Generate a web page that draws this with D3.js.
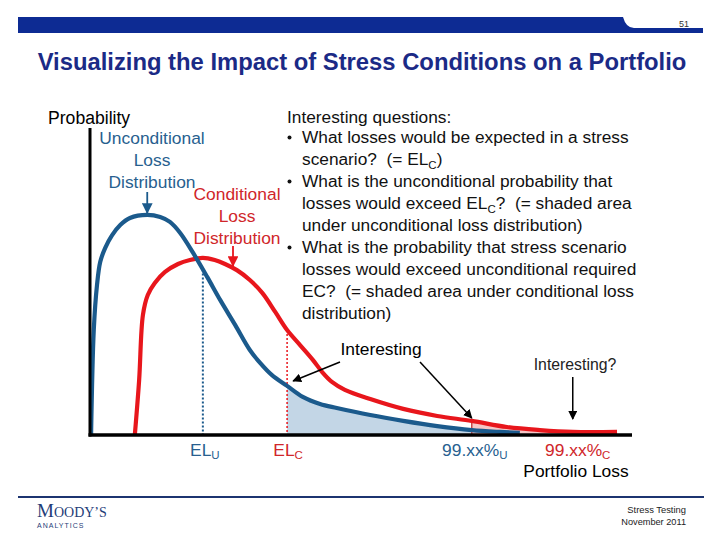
<!DOCTYPE html>
<html><head><meta charset="utf-8">
<script src="https://cdn.jsdelivr.net/npm/d3@7"></script>
<style>body{margin:0;background:#fff}svg{display:block}text{white-space:pre}</style>
</head><body><svg id="c" width="720" height="540"></svg>
<script>
// Unconditional loss distribution: [loss, probability]
const uncondLoss = [0.2,0.7,1.3,1.9,2.8,4.1,5.6,7.4,10.6,13.0,14.8,16.7,19.1,21.7,24.1,26.9,29.6,31.5,33.7,36.5,39.4,42.6,45.7,51.9,58.0,64.3,70.7,75.9,79.6];
const uncondProb = [0,34.2,48.9,56.4,60.9,65.1,68.4,70.7,71.7,71.0,69.4,65.8,59.3,51.5,44.0,35.8,27.7,23.5,19.5,16.0,12.4,10.1,8.8,6.5,4.6,2.9,1.6,1.0,0.7];
// Conditional (stressed) loss distribution
const condLoss = [8.3,9.1,9.8,10.7,12.0,13.9,16.3,18.5,20.9,23.1,25.0,27.2,29.6,31.9,34.3,36.5,38.9,41.3,43.0,44.8,47.2,51.9,58.0,64.3,70.7,77.2,83.3,89.4,97.6];
const condProb = [0,17.9,39.1,45.6,49.5,53.1,55.7,57.0,57.7,57.0,55.7,53.7,50.5,46.3,40.1,34.2,29.3,24.4,20.5,17.3,14.7,11.7,8.5,6.2,4.6,2.6,1.6,1.0,1.0];
// Marker positions (loss units)
const markerNames = ["EL_U","EL_C","99U","99C"];
const markerLoss = [20.9,36.5,70.7,89.4];
const questions = [
  {b:true, t:[["What losses would be expected in a stress"]]},
  {b:false,t:[["scenario?  (= EL"],["C","sub"],[")"]]},
  {b:true, t:[["What is the unconditional probability that"]]},
  {b:false,t:[["losses would exceed EL"],["C","sub"],["?  (= shaded area"]]},
  {b:false,t:[["under unconditional loss distribution)"]]},
  {b:true, t:[["What is the probability that stress scenario"]]},
  {b:false,t:[["losses would exceed unconditional required"]]},
  {b:false,t:[["EC?  (= shaded area under conditional loss"]]},
  {b:false,t:[["distribution)"]]}
];

const svg = d3.select("#c");
const F = "'Liberation Sans', Arial, sans-serif";
const FS = 17.3;
const BLUE = "#1b5a8c", RED = "#e8161c", BLUET = "#285f8f", REDT = "#d0262a", NAVY = "#0d2b93";

const x = d3.scaleLinear().domain([0,100]).range([90,630]);
const y = d3.scaleLinear().domain([0,100]).range([435,128]);

const blue = uncondLoss.map((l,i)=>[l,uncondProb[i]]);
const red = condLoss.map((l,i)=>[l,condProb[i]]);
const curve = d3.curveCatmullRom.alpha(0.5);
const interp = (pts, l) => { for(let i=1;i<pts.length;i++){ if(pts[i][0]>=l){const a=pts[i-1],b=pts[i];return a[1]+(b[1]-a[1])*(l-a[0])/(b[0]-a[0]);}} return pts[pts.length-1][1]; };
const clipPts = (pts,a,b) => { const r=[[a,interp(pts,a)]]; pts.forEach(p=>{if(p[0]>a&&p[0]<b) r.push(p);}); r.push([b,interp(pts,b)]); return r; };

// header bar
svg.append("path").attr("fill",NAVY)
  .attr("d",`M18,17 H623 Q626,28 634,28 H703 V33 H18 Z`);
svg.append("text").attr("x",684).attr("y",27).attr("text-anchor","middle")
  .attr("font-family",F).attr("font-size",9).attr("fill","#333").text("51");
// title
svg.append("text").attr("x",362).attr("y",70).attr("text-anchor","middle")
  .attr("font-family",F).attr("font-weight","bold").attr("font-size",23.8)
  .attr("fill","#1b2a86").text("Visualizing the Impact of Stress Conditions on a Portfolio");

// shaded areas
const area = d3.area().x(d=>x(d[0])).y0(y(0)).y1(d=>y(d[1])).curve(curve);
svg.append("path").datum(clipPts(red, markerLoss[2], condLoss[condLoss.length-1])).attr("d",area).attr("fill","#f6c6c6");
svg.append("path").datum(clipPts(blue, markerLoss[1], markerLoss[2])).attr("d",area).attr("fill","#c3d6e6");

// dotted marker lines
svg.append("line").attr("x1",x(markerLoss[0])).attr("x2",x(markerLoss[0]))
  .attr("y1",y(interp(blue,markerLoss[0]))).attr("y2",y(0))
  .attr("stroke",BLUE).attr("stroke-width",2).attr("stroke-dasharray","2,2");
svg.append("line").attr("x1",x(markerLoss[1])).attr("x2",x(markerLoss[1]))
  .attr("y1",y(interp(red,markerLoss[1]))).attr("y2",y(0))
  .attr("stroke",RED).attr("stroke-width",1.5).attr("stroke-dasharray","2,2");
svg.append("line").attr("x1",x(markerLoss[2])).attr("x2",x(markerLoss[2]))
  .attr("y1",y(interp(red,markerLoss[2]))).attr("y2",y(0))
  .attr("stroke","#b22").attr("stroke-width",1.2);

// curves
const line = d3.line().x(d=>x(d[0])).y(d=>y(d[1])).curve(curve);
svg.append("path").datum(red).attr("d",line).attr("fill","none").attr("stroke",RED).attr("stroke-width",4.2).attr("stroke-linejoin","round");
svg.append("path").datum(blue).attr("d",line).attr("fill","none").attr("stroke",BLUE).attr("stroke-width",4.2).attr("stroke-linejoin","round");

// axes
svg.append("line").attr("x1",x(0)).attr("x2",x(0)).attr("y1",128).attr("y2",y(0)+1.5).attr("stroke","#000").attr("stroke-width",3);
svg.append("line").attr("x1",x(0)-1.5).attr("x2",x(100)+2).attr("y1",y(0)).attr("y2",y(0)).attr("stroke","#000").attr("stroke-width",3.5);

// arrow markers
const defs = svg.append("defs");
[["ak","#000"],["ab",BLUE],["ar",RED]].forEach(([id,c])=>{
  defs.append("marker").attr("id",id).attr("viewBox","0 0 10 10").attr("refX",9).attr("refY",5)
    .attr("markerWidth",6).attr("markerHeight",6).attr("orient","auto-start-reverse")
    .append("path").attr("d","M0,0 L10,5 L0,10 Z").attr("fill",c);
});
function arrow(x1,y1,x2,y2,id,c,w){
  svg.append("line").attr("x1",x1).attr("y1",y1).attr("x2",x2).attr("y2",y2)
    .attr("stroke",c).attr("stroke-width",w).attr("marker-end",`url(#${id})`);
}
// y-axis label
svg.append("text").attr("x",48).attr("y",124).attr("font-family",F).attr("font-size",17.6).attr("fill","#000").text("Probability");
// distribution labels
const t3 = (lines,cx,y0,col)=>lines.forEach((s,i)=>svg.append("text").attr("x",cx).attr("y",y0+i*22)
  .attr("text-anchor","middle").attr("font-family",F).attr("font-size",17.4).attr("fill",col).text(s));
t3(["Unconditional","Loss","Distribution"],152,144,BLUET);
t3(["Conditional","Loss","Distribution"],237,200,REDT);
arrow(x(10.6),192,x(10.6),213,"ab",BLUE,1.8);
arrow(233,246,233,266,"ar",RED,1.8);

// questions
svg.append("text").attr("x",287).attr("y",123).attr("font-family",F).attr("font-size",FS).attr("fill","#111").text("Interesting questions:");
questions.forEach((q,i)=>{
  const yy = 143+i*22;
  if(q.b) svg.append("circle").attr("cx",289.5).attr("cy",yy-5.5).attr("r",2).attr("fill","#111");
  const t = svg.append("text").attr("x",302).attr("y",yy).attr("font-family",F).attr("font-size",FS).attr("fill","#111");
  q.t.forEach((seg,k)=>{
    if(seg[1]==="sub"){ t.append("tspan").attr("font-size",11.5).attr("dy",4).text(seg[0]); }
    else { const s=t.append("tspan").text(seg[0]); if(k>0) s.attr("dy",-4); }
  });
});

// interesting labels + arrows
svg.append("text").attr("x",381).attr("y",355).attr("text-anchor","middle").attr("font-family",F).attr("font-size",17.4).attr("fill","#000").text("Interesting");
arrow(340,362,x(markerLoss[1])+6,381,"ak","#000",1.5);
arrow(420,362,x(markerLoss[2]),418,"ak","#000",1.5);
svg.append("text").attr("x",575).attr("y",370).attr("text-anchor","middle").attr("font-family",F).attr("font-size",15.8).attr("fill","#222").text("Interesting?");
arrow(x(markerLoss[3]),377,x(markerLoss[3]),419,"ak","#000",1.5);

// marker labels
function subLabel(cx,main,sub,col){
  const t=svg.append("text").attr("x",cx).attr("y",456).attr("text-anchor","middle").attr("font-family",F).attr("font-size",17.4).attr("fill",col);
  t.append("tspan").text(main);
  t.append("tspan").attr("font-size",11.5).attr("dy",3).text(sub);
}
subLabel(x(markerLoss[0])+2,"EL","U",BLUET);
subLabel(x(markerLoss[1])+1,"EL","C",REDT);
subLabel(x(markerLoss[2])+3,"99.xx%","U",BLUET);
subLabel(x(markerLoss[3])+5,"99.xx%","C",REDT);
svg.append("text").attr("x",576).attr("y",477).attr("text-anchor","middle").attr("font-family",F).attr("font-size",17.4).attr("fill","#000").text("Portfolio Loss");

// footer
svg.append("line").attr("x1",18).attr("x2",704).attr("y1",497).attr("y2",497).attr("stroke","#1c3470").attr("stroke-width",2.2);
const lg = svg.append("text").attr("x",37).attr("y",517).attr("font-family","'Liberation Serif','DejaVu Serif',serif").attr("fill","#1f3d78");
lg.append("tspan").attr("font-size",19).text("M");
lg.append("tspan").attr("font-size",14).text("OODY’S");
svg.append("text").attr("x",37).attr("y",528).attr("font-family",F).attr("font-size",7).attr("letter-spacing",1).attr("fill","#1f3d78").text("ANALYTICS");
svg.append("text").attr("x",686).attr("y",513).attr("text-anchor","end").attr("font-family",F).attr("font-size",9.4).attr("fill","#222").text("Stress Testing");
svg.append("text").attr("x",686).attr("y",525).attr("text-anchor","end").attr("font-family",F).attr("font-size",9.2).attr("fill","#222").text("November 2011");
</script></body></html>
